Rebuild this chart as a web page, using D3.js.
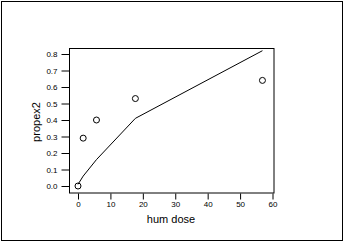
<!DOCTYPE html>
<html><head><meta charset="utf-8">
<script src="https://cdn.jsdelivr.net/npm/d3@7"></script>
<style>body{margin:0;background:#fff}svg{display:block}</style>
</head><body>
<script>
const doseX = [0, 1.6, 5.7, 17.7, 56.9];
const observed = [0.0, 0.29, 0.40, 0.53, 0.64];
const fitted = [0.01, 0.06, 0.16, 0.41, 0.82];
const xTicks = [0, 10, 20, 30, 40, 50, 60];
const yTicks = [0.0, 0.1, 0.2, 0.3, 0.4, 0.5, 0.6, 0.7, 0.8];

const W = 344, H = 242;
const svg = d3.select("body").append("svg").attr("width", W).attr("height", H);
svg.append("rect").attr("x", 1.5).attr("y", 1.5).attr("width", W - 3).attr("height", H - 3)
  .attr("fill", "#fff").attr("stroke", "#000").attr("stroke-width", 1);

const x = d3.scaleLinear().domain([0, 60]).range([78, 272.5]);
const y = d3.scaleLinear().domain([0, 0.8]).range([186, 54]);

// plot box
svg.append("rect").attr("x", 69.5).attr("y", 48.5).attr("width", 204.5).attr("height", 144.5)
  .attr("fill", "none").attr("stroke", "#000").attr("stroke-width", 1);

const font = "Liberation Sans, Arial, sans-serif";
const xAxis = svg.append("g").attr("transform", "translate(0,193.5)")
  .call(d3.axisBottom(x).tickValues(xTicks).tickSize(6).tickSizeOuter(0).tickFormat(d3.format("d")));
const yAxis = svg.append("g").attr("transform", "translate(69.5,0)")
  .call(d3.axisLeft(y).tickValues(yTicks).tickSize(8).tickSizeOuter(0).tickFormat(d3.format(".1f")));
[xAxis, yAxis].forEach(g => {
  g.select(".domain").remove();
  g.selectAll("line").attr("stroke", "#000");
  g.selectAll("text").attr("font-family", font).attr("font-size", 8).attr("fill", "#000");
});
xAxis.selectAll("text").attr("dy", "0.6em");
yAxis.selectAll("text").attr("x", -12);

// fitted line
const pts = doseX.map((d, i) => [d, fitted[i]]);
svg.append("path").datum(pts)
  .attr("d", d3.line().x(d => x(d[0])).y(d => y(d[1])))
  .attr("fill", "none").attr("stroke", "#000").attr("stroke-width", 1);

// observed points
svg.selectAll("circle.obs").data(doseX.map((d, i) => [d, observed[i]])).enter()
  .append("circle").attr("class", "obs")
  .attr("cx", d => x(d[0])).attr("cy", d => y(d[1])).attr("r", 3)
  .attr("fill", "none").attr("stroke", "#000").attr("stroke-width", 1);

svg.append("text").attr("x", 171).attr("y", 223).attr("text-anchor", "middle")
  .attr("font-family", font).attr("font-size", 11).text("hum dose");
svg.append("text").attr("transform", "translate(40,122) rotate(-90)").attr("text-anchor", "middle")
  .attr("font-family", font).attr("font-size", 11).text("propex2");
</script>
</body></html>
